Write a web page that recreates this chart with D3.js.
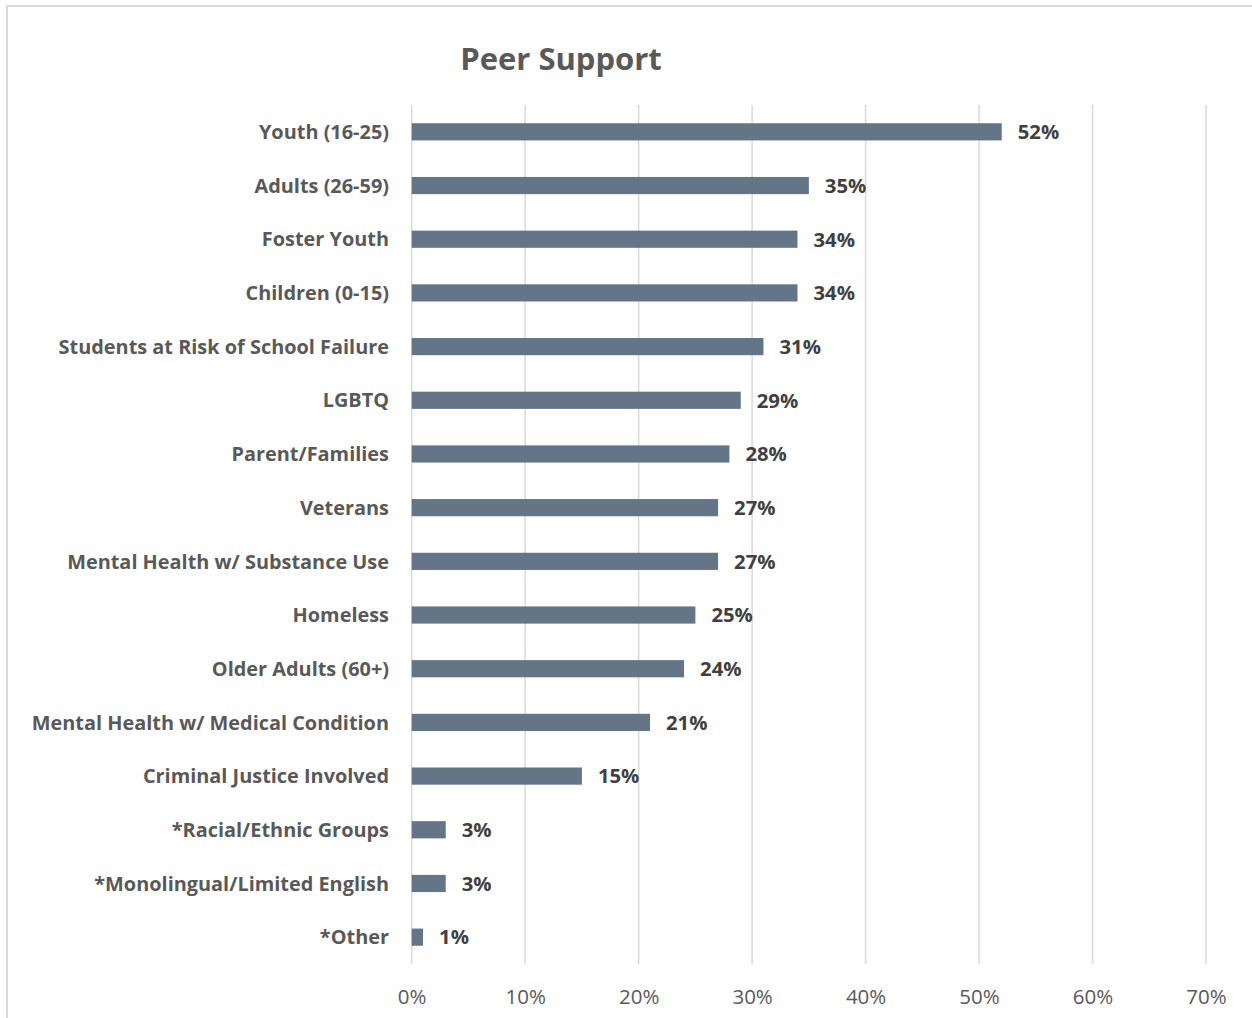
<!DOCTYPE html>
<html>
<head>
<meta charset="utf-8">
<script src="https://cdn.jsdelivr.net/npm/d3@7"></script>
<style>
  html, body { margin: 0; padding: 0; background: #ffffff; }
  svg { display: block; }
</style>
</head>
<body>
<div id="chart"></div>
<script>
// Share of programs offering peer support, by population served
const categories = [
  "Youth (16-25)",
  "Adults (26-59)",
  "Foster Youth",
  "Children (0-15)",
  "Students at Risk of School Failure",
  "LGBTQ",
  "Parent/Families",
  "Veterans",
  "Mental Health w/ Substance Use",
  "Homeless",
  "Older Adults (60+)",
  "Mental Health w/ Medical Condition",
  "Criminal Justice Involved",
  "*Racial/Ethnic Groups",
  "*Monolingual/Limited English",
  "*Other"
];
const values = [52, 35, 34, 34, 31, 29, 28, 27, 27, 25, 24, 21, 15, 3, 3, 1];
const tickValues = [0, 10, 20, 30, 40, 50, 60, 70];
const chartTitle = "Peer Support";

const W = 1252, H = 1018;
const FONT = "'Open Sans', Lato, sans-serif";

const svg = d3.select("#chart").append("svg")
  .attr("width", W).attr("height", H);

// outer chart frame (continues past the right and bottom edges)
svg.append("rect")
  .attr("x", 7).attr("y", 6)
  .attr("width", W + 20).attr("height", H + 20)
  .attr("fill", "#ffffff")
  .attr("stroke", "#d9d9d9").attr("stroke-width", 2);

const plot = { left: 411.7, right: 1206, top: 105, bottom: 964 };

const x = d3.scaleLinear().domain([0, 70]).range([plot.left, plot.right]);
const y = d3.scaleBand().domain(categories)
  .range([plot.top, plot.bottom]).paddingInner(0.68).paddingOuter(0.34);

// vertical gridlines
svg.append("g").selectAll("line").data(tickValues).join("line")
  .attr("x1", d => x(d)).attr("x2", d => x(d))
  .attr("y1", plot.top).attr("y2", plot.bottom)
  .attr("stroke", "#d9d9d9").attr("stroke-width", 1.5);

// x-axis tick labels
const xAxis = d3.axisBottom(x).tickValues(tickValues)
  .tickFormat(d => d + "%").tickSize(0).tickPadding(0);
const gx = svg.append("g").attr("transform", `translate(0,${plot.bottom})`).call(xAxis);
gx.select(".domain").remove();
gx.selectAll("text")
  .attr("y", 40)
  .attr("dy", 0)
  .attr("font-family", FONT).attr("font-size", 20.5)
  .attr("fill", "#595959");

// category labels
const yAxis = d3.axisLeft(y).tickSize(0).tickPadding(0);
const gy = svg.append("g").attr("transform", `translate(389,0)`).call(yAxis);
gy.select(".domain").remove();
gy.selectAll("text")
  .attr("x", 0)
  .attr("dy", "0.36em")
  .attr("font-family", FONT).attr("font-size", 19.9).attr("font-weight", "bold")
  .attr("fill", "#595959");

// bars
svg.append("g").selectAll("rect").data(values).join("rect")
  .attr("x", x(0))
  .attr("y", (d, i) => y(categories[i]))
  .attr("width", d => x(d) - x(0))
  .attr("height", y.bandwidth())
  .attr("fill", "#647587");

// value labels
svg.append("g").selectAll("text").data(values).join("text")
  .attr("x", d => x(d) + 16)
  .attr("y", (d, i) => y(categories[i]) + y.bandwidth() / 2)
  .attr("dy", "0.36em")
  .attr("font-family", FONT).attr("font-size", 20.3).attr("font-weight", "bold")
  .attr("fill", "#404040")
  .text(d => d + "%");

// title
svg.append("text")
  .attr("x", 561).attr("y", 70)
  .attr("text-anchor", "middle")
  .attr("font-family", FONT).attr("font-size", 31).attr("font-weight", "bold")
  .attr("fill", "#595959")
  .text(chartTitle);
</script>
</body>
</html>
